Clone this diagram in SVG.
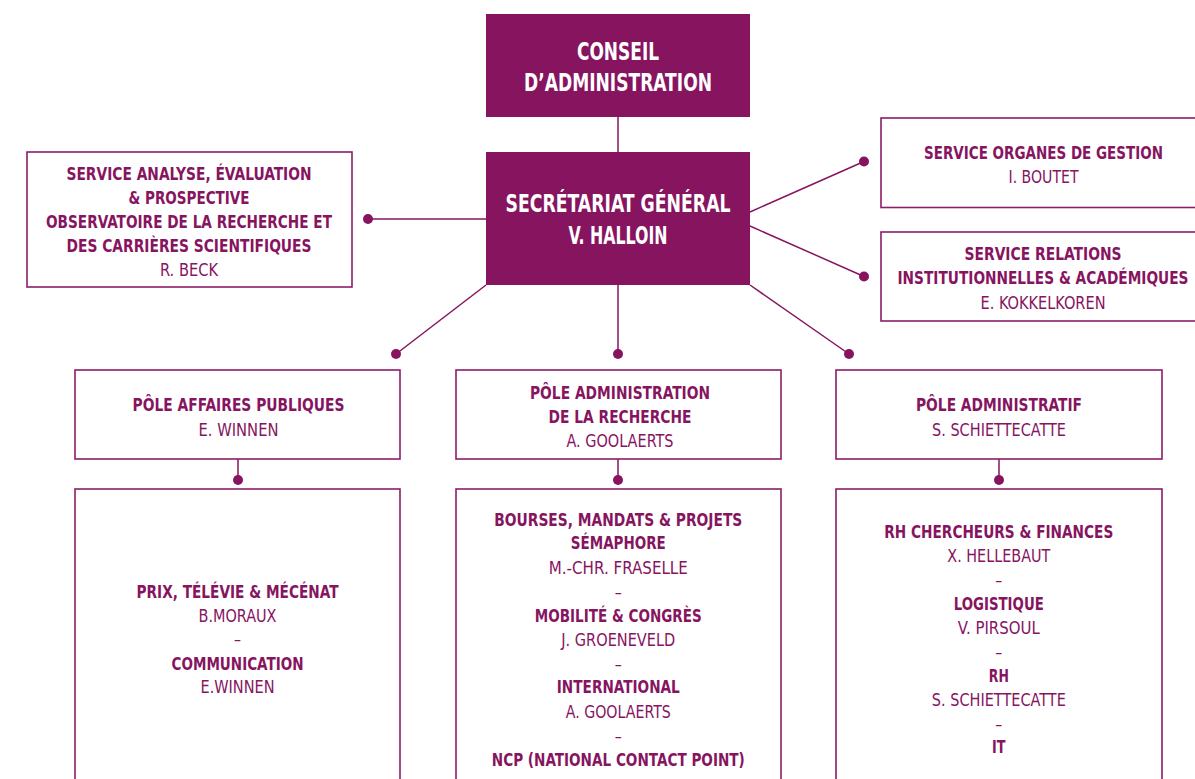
<svg xmlns="http://www.w3.org/2000/svg" width="1195" height="779" viewBox="0 0 1195 779">
<style>
.box{fill:#fff;stroke:#8c1d68;stroke-width:1.6}
.dark{fill:#86145f}
.wt{font-family:"DejaVu Sans Condensed","DejaVu Sans","Liberation Sans",sans-serif;font-stretch:condensed;fill:#fff;text-anchor:middle;font-size:24px;font-weight:bold}
.t{font-family:"DejaVu Sans Condensed","DejaVu Sans","Liberation Sans",sans-serif;font-stretch:condensed;fill:#86145f;text-anchor:middle;font-size:18px}
.b{font-weight:bold}
.ln{stroke:#86145f;stroke-width:1.5;fill:none}
.dot{fill:#86145f}
</style>
<g id="connectors">
<line class="ln" x1="618" y1="117" x2="618" y2="152"/>
<line class="ln" x1="486" y1="219" x2="368" y2="219"/>
<circle class="dot" cx="368" cy="219" r="5"/>
<line class="ln" x1="750" y1="212" x2="864" y2="161.5"/>
<circle class="dot" cx="864" cy="161.5" r="5"/>
<line class="ln" x1="750" y1="226" x2="864" y2="276.5"/>
<circle class="dot" cx="864" cy="276.5" r="5"/>
<line class="ln" x1="486" y1="285" x2="396" y2="354"/>
<circle class="dot" cx="396" cy="354" r="5"/>
<line class="ln" x1="618" y1="285" x2="618" y2="354"/>
<circle class="dot" cx="618" cy="354" r="5"/>
<line class="ln" x1="750" y1="285" x2="849" y2="354"/>
<circle class="dot" cx="849" cy="354" r="5"/>
<line class="ln" x1="238" y1="459" x2="238" y2="480"/>
<circle class="dot" cx="238" cy="480" r="5"/>
<line class="ln" x1="618" y1="459" x2="618" y2="480"/>
<circle class="dot" cx="618" cy="480" r="5"/>
<line class="ln" x1="999" y1="459" x2="999" y2="480"/>
<circle class="dot" cx="999" cy="480" r="5"/>
</g>
<g id="conseil">
<rect class="dark" x="486" y="14" width="264" height="103"/>
<text class="wt" x="618" y="60" textLength="82" lengthAdjust="spacingAndGlyphs">CONSEIL</text>
<text class="wt" x="618" y="91" textLength="188" lengthAdjust="spacingAndGlyphs">D’ADMINISTRATION</text>
</g>
<g id="secretariat">
<rect class="dark" x="486" y="152" width="264" height="133"/>
<text class="wt" x="618" y="212" textLength="225" lengthAdjust="spacingAndGlyphs">SECRÉTARIAT GÉNÉRAL</text>
<text class="wt" x="618" y="244" font-weight="normal" textLength="99" lengthAdjust="spacingAndGlyphs">V. HALLOIN</text>
</g>
<g id="analyse">
<rect class="box" x="27" y="152" width="325" height="135"/>
<text class="t b" x="189" y="179.5" textLength="245" lengthAdjust="spacingAndGlyphs">SERVICE ANALYSE, ÉVALUATION</text>
<text class="t b" x="189" y="203.5" textLength="121" lengthAdjust="spacingAndGlyphs">&amp; PROSPECTIVE</text>
<text class="t b" x="189" y="227.5" textLength="286" lengthAdjust="spacingAndGlyphs">OBSERVATOIRE DE LA RECHERCHE ET</text>
<text class="t b" x="189" y="251.5" textLength="245" lengthAdjust="spacingAndGlyphs">DES CARRIÈRES SCIENTIFIQUES</text>
<text class="t" x="189" y="275.5" textLength="58" lengthAdjust="spacingAndGlyphs">R. BECK</text>
</g>
<g id="organes">
<rect class="box" x="881" y="118" width="320" height="89.5"/>
<text class="t b" x="1043.5" y="159" textLength="239" lengthAdjust="spacingAndGlyphs">SERVICE ORGANES DE GESTION</text>
<text class="t" x="1043.5" y="183" textLength="70" lengthAdjust="spacingAndGlyphs">I. BOUTET</text>
</g>
<g id="relations">
<rect class="box" x="881" y="232" width="320" height="89"/>
<text class="t b" x="1043" y="260" textLength="157" lengthAdjust="spacingAndGlyphs">SERVICE RELATIONS</text>
<text class="t b" x="1043" y="284.3" textLength="291" lengthAdjust="spacingAndGlyphs">INSTITUTIONNELLES &amp; ACADÉMIQUES</text>
<text class="t" x="1043" y="309" textLength="125" lengthAdjust="spacingAndGlyphs">E. KOKKELKOREN</text>
</g>
<g id="pole-affaires">
<rect class="box" x="75" y="370" width="325" height="89"/>
<text class="t b" x="238.5" y="411" textLength="212" lengthAdjust="spacingAndGlyphs">PÔLE AFFAIRES PUBLIQUES</text>
<text class="t" x="238.5" y="435.5" textLength="80" lengthAdjust="spacingAndGlyphs">E. WINNEN</text>
</g>
<g id="pole-recherche">
<rect class="box" x="456" y="370" width="325" height="89"/>
<text class="t b" x="620" y="399.3" textLength="180" lengthAdjust="spacingAndGlyphs">PÔLE ADMINISTRATION</text>
<text class="t b" x="620" y="422.7" textLength="143" lengthAdjust="spacingAndGlyphs">DE LA RECHERCHE</text>
<text class="t" x="620" y="446.7" textLength="107" lengthAdjust="spacingAndGlyphs">A. GOOLAERTS</text>
</g>
<g id="pole-administratif">
<rect class="box" x="836" y="370" width="326" height="89"/>
<text class="t b" x="999" y="411" textLength="166" lengthAdjust="spacingAndGlyphs">PÔLE ADMINISTRATIF</text>
<text class="t" x="999" y="435.7" textLength="134" lengthAdjust="spacingAndGlyphs">S. SCHIETTECATTE</text>
</g>
<g id="services-affaires">
<rect class="box" x="75" y="489" width="325" height="300"/>
<text class="t b" x="237.5" y="598.3" textLength="202" lengthAdjust="spacingAndGlyphs">PRIX, TÉLÉVIE &amp; MÉCÉNAT</text>
<text class="t" x="237.5" y="621.7" textLength="78" lengthAdjust="spacingAndGlyphs">B.MORAUX</text>
<text class="t" x="237.5" y="645" textLength="7" lengthAdjust="spacingAndGlyphs">–</text>
<text class="t b" x="237.5" y="670" textLength="132" lengthAdjust="spacingAndGlyphs">COMMUNICATION</text>
<text class="t" x="237.5" y="693.3" textLength="74" lengthAdjust="spacingAndGlyphs">E.WINNEN</text>
</g>
<g id="services-recherche">
<rect class="box" x="456" y="489" width="325" height="300"/>
<text class="t b" x="618.3" y="525.7" textLength="248" lengthAdjust="spacingAndGlyphs">BOURSES, MANDATS &amp; PROJETS</text>
<text class="t b" x="618.3" y="549.3" textLength="95" lengthAdjust="spacingAndGlyphs">SÉMAPHORE</text>
<text class="t" x="618.3" y="574" textLength="139" lengthAdjust="spacingAndGlyphs">M.-CHR. FRASELLE</text>
<text class="t" x="618.3" y="598" textLength="7" lengthAdjust="spacingAndGlyphs">–</text>
<text class="t b" x="618.3" y="621.7" textLength="167" lengthAdjust="spacingAndGlyphs">MOBILITÉ &amp; CONGRÈS</text>
<text class="t" x="618.3" y="645.7" textLength="114" lengthAdjust="spacingAndGlyphs">J. GROENEVELD</text>
<text class="t" x="618.3" y="669.5" textLength="7" lengthAdjust="spacingAndGlyphs">–</text>
<text class="t b" x="618.3" y="693.3" textLength="123" lengthAdjust="spacingAndGlyphs">INTERNATIONAL</text>
<text class="t" x="618.3" y="717.7" textLength="105" lengthAdjust="spacingAndGlyphs">A. GOOLAERTS</text>
<text class="t" x="618.3" y="742" textLength="7" lengthAdjust="spacingAndGlyphs">–</text>
<text class="t b" x="618.3" y="766" textLength="253" lengthAdjust="spacingAndGlyphs">NCP (NATIONAL CONTACT POINT)</text>
</g>
<g id="services-administratif">
<rect class="box" x="836" y="489" width="326" height="300"/>
<text class="t b" x="998.8" y="538.3" textLength="229" lengthAdjust="spacingAndGlyphs">RH CHERCHEURS &amp; FINANCES</text>
<text class="t" x="998.8" y="561.7" textLength="103" lengthAdjust="spacingAndGlyphs">X. HELLEBAUT</text>
<text class="t" x="998.8" y="585.5" textLength="7" lengthAdjust="spacingAndGlyphs">–</text>
<text class="t b" x="998.8" y="610" textLength="90" lengthAdjust="spacingAndGlyphs">LOGISTIQUE</text>
<text class="t" x="998.8" y="634" textLength="82" lengthAdjust="spacingAndGlyphs">V. PIRSOUL</text>
<text class="t" x="998.8" y="658" textLength="7" lengthAdjust="spacingAndGlyphs">–</text>
<text class="t b" x="998.8" y="681.7" textLength="20" lengthAdjust="spacingAndGlyphs">RH</text>
<text class="t" x="998.8" y="706" textLength="134" lengthAdjust="spacingAndGlyphs">S. SCHIETTECATTE</text>
<text class="t" x="998.8" y="730" textLength="7" lengthAdjust="spacingAndGlyphs">–</text>
<text class="t b" x="998.8" y="753.3" textLength="13.5" lengthAdjust="spacingAndGlyphs">IT</text>
</g>
</svg>
